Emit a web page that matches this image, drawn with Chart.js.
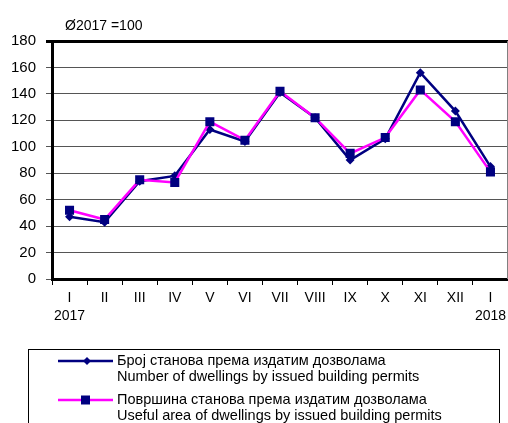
<!DOCTYPE html>
<html lang="sr">
<head>
<meta charset="UTF-8">
<title>Издате грађевинске дозволе</title>
<script src="https://cdn.jsdelivr.net/npm/chart.js"></script>
<style>
    html, body { margin: 0; padding: 0; background: #fff; }
    #wrap { width: 508px; height: 423px; }
</style>
</head>
<body>
<div id="wrap"><canvas id="permitsChart" width="508" height="423"></canvas></div>
<script>
    // месеци, index Ø2017 = 100
    const months = [['I', '2017'], 'II', 'III', 'IV', 'V', 'VI', 'VII', 'VIII', 'IX', 'X', 'XI', 'XII', ['I', '2018']];
    const dwellings = [47, 43, 74, 78, 113, 104, 141, 122, 90, 106, 156, 127, 85];
    const usefulArea = [52, 45, 75, 73, 119, 105, 142, 122, 95, 107, 143, 119, 81];
    const yMin = 0, yMax = 180, yStep = 20;
    const baseNote = 'Ø2017 =100';
    const legendDwellings = ['Број станова према издатим дозволама', 'Number of dwellings by issued building permits'];
    const legendArea = ['Површина станова према издатим дозволама', 'Useful area of dwellings by issued building permits'];

    const NAVY = '#000080';
    const MAGENTA = '#ff00ff';
    const FONT = '"Liberation Sans", Arial, sans-serif';

    const extras = {
        id: 'extras',
        afterDraw(chart) {
            const ctx = chart.ctx;
            const area = chart.chartArea;
            ctx.save();

            // right border of plot area
            ctx.strokeStyle = '#808080';
            ctx.lineWidth = 1;
            ctx.beginPath();
            ctx.moveTo(area.right - 0.5, area.top);
            ctx.lineTo(area.right - 0.5, area.bottom);
            ctx.stroke();

            // note above the axis
            ctx.fillStyle = '#000';
            ctx.font = '14px ' + FONT;
            ctx.textBaseline = 'alphabetic';
            ctx.fillText(baseNote, 65, 30);

            // legend box
            ctx.strokeStyle = '#000';
            ctx.lineWidth = 1;
            ctx.strokeRect(28.5, 349.5, 471, 120);

            const entries = [
                { lines: legendDwellings, color: NAVY, marker: 'diamond', y: 361 },
                { lines: legendArea, color: MAGENTA, marker: 'square', y: 400 }
            ];
            ctx.font = '14.5px ' + FONT;
            ctx.textBaseline = 'middle';
            entries.forEach(e => {
                ctx.strokeStyle = e.color;
                ctx.lineWidth = 2.5;
                ctx.beginPath();
                ctx.moveTo(58, e.y);
                ctx.lineTo(113, e.y);
                ctx.stroke();
                ctx.fillStyle = NAVY;
                if (e.marker === 'diamond') {
                    ctx.beginPath();
                    ctx.moveTo(87, e.y - 4);
                    ctx.lineTo(91, e.y);
                    ctx.lineTo(87, e.y + 4);
                    ctx.lineTo(83, e.y);
                    ctx.closePath();
                    ctx.fill();
                } else {
                    ctx.fillRect(81, e.y - 4.5, 9, 9);
                }
                ctx.fillStyle = '#000';
                e.lines.forEach((t, i) => ctx.fillText(t, 117, e.y + i * 16));
            });
            ctx.restore();
        }
    };

    new Chart(document.getElementById('permitsChart'), {
        type: 'line',
        data: {
            labels: months,
            datasets: [
                {
                    label: legendDwellings[1],
                    data: dwellings,
                    borderColor: NAVY,
                    backgroundColor: NAVY,
                    borderWidth: 2.5,
                    pointStyle: 'rectRot',
                    pointRadius: 4.5,
                    pointBorderWidth: 0,
                    tension: 0,
                    order: 1
                },
                {
                    label: legendArea[1],
                    data: usefulArea,
                    borderColor: MAGENTA,
                    backgroundColor: NAVY,
                    borderWidth: 2.5,
                    pointStyle: 'rect',
                    pointRadius: 6.4,
                    pointBorderWidth: 0,
                    tension: 0,
                    order: 0
                }
            ]
        },
        options: {
            responsive: false,
            animation: false,
            layout: { autoPadding: false, padding: { top: 41, left: 0, right: 0, bottom: 100 } },
            plugins: {
                legend: { display: false },
                tooltip: { enabled: false },
                title: { display: false }
            },
            scales: {
                x: {
                    offset: true,
                    afterFit(scale) {
                        scale.height = 44;
                        scale.paddingLeft = 0;
                        scale.paddingRight = 0;
                    },
                    grid: { offset: true, drawOnChartArea: false, tickLength: 6, color: '#000', lineWidth: 1 },
                    border: { color: '#000', width: 3 },
                    ticks: {
                        color: '#000',
                        font: { family: FONT, size: 14, lineHeight: 1.3 },
                        padding: 4,
                        maxRotation: 0,
                        autoSkip: false
                    }
                },
                y: {
                    min: yMin,
                    max: yMax,
                    afterFit(scale) { scale.width = 52; },
                    grid: {
                        tickLength: 6,
                        color: c => (c.tick && c.tick.value === yMax) ? '#000' : '#555',
                        lineWidth: c => (c.tick && c.tick.value === yMax) ? 3 : 1
                    },
                    border: { color: '#000', width: 3 },
                    ticks: {
                        stepSize: yStep,
                        color: '#000',
                        font: { family: FONT, size: 15 },
                        padding: 10
                    }
                }
            }
        },
        plugins: [extras]
    });
</script>
</body>
</html>
